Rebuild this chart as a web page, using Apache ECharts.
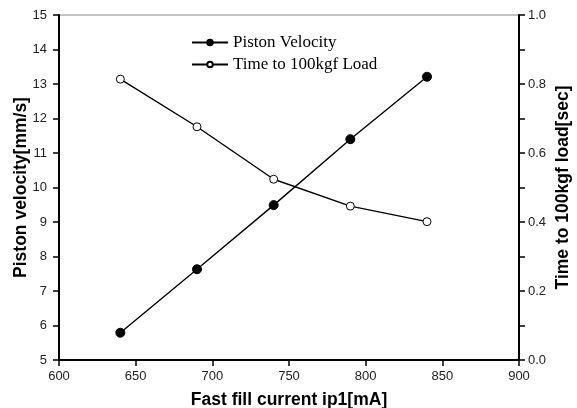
<!DOCTYPE html>
<html>
<head>
<meta charset="utf-8">
<script src="https://cdn.jsdelivr.net/npm/echarts@6/dist/echarts.min.js"></script>
<style>html,body{margin:0;padding:0;background:#fff}#c{width:577px;height:408px}</style>
</head>
<body>
<div id="c"></div>
<script>
var currents = [640, 690, 740, 790, 840];
var pistonVelocity = [5.79, 7.63, 9.49, 11.40, 13.21];
var timeToLoad = [0.814, 0.676, 0.524, 0.446, 0.401];
var seriesNames = ['Piston Velocity', 'Time to 100kgf Load'];
var xName = 'Fast fill current ip1[mA]';
var yLeftName = 'Piston velocity[mm/s]';
var yRightName = 'Time to 100kgf load[sec]';

var chart = echarts.init(document.getElementById('c'));
var axisFont = {fontFamily: 'Arial, "Liberation Sans", sans-serif', fontSize: 13, color: '#222'};
var nameFont = {fontFamily: 'Arial, "Liberation Sans", sans-serif', fontSize: 17.5, fontWeight: 'bold', color: '#000'};
function pairs(ys) { return currents.map(function (x, i) { return [x, ys[i]]; }); }
chart.setOption({
  animation: false,
  grid: {left: 59, top: 15, right: 58, bottom: 48, show: true, borderColor: '#888', borderWidth: 1,
         containLabel: false, outerBoundsMode: 'none'},
  legend: {
    left: 186, top: 29, orient: 'vertical', itemWidth: 36, itemHeight: 7, itemGap: 5,
    lineStyle: {width: 2},
    textStyle: {fontFamily: '"Liberation Serif", "Times New Roman", serif', fontSize: 17, lineHeight: 17, color: '#000'},
    data: seriesNames
  },
  xAxis: {
    type: 'value', min: 600, max: 900, interval: 50,
    name: xName, nameLocation: 'middle', nameGap: 31, nameTextStyle: nameFont,
    axisLine: {lineStyle: {color: '#000', width: 2}},
    axisTick: {length: 6, lineStyle: {color: '#000', width: 1.5}},
    axisLabel: Object.assign({margin: 10}, axisFont),
    splitLine: {show: false}
  },
  yAxis: [{
    type: 'value', min: 5, max: 15, interval: 1, position: 'left',
    name: yLeftName, nameLocation: 'middle', nameRotate: 90, nameGap: 29, nameMoveOverlap: false,
    nameTextStyle: nameFont,
    axisLine: {show: true, lineStyle: {color: '#000', width: 2}},
    axisTick: {show: true, length: 6, lineStyle: {color: '#000', width: 1.5}},
    axisLabel: Object.assign({margin: 12}, axisFont),
    splitLine: {show: false}
  }, {
    type: 'value', min: 0, max: 1, interval: 0.1, position: 'right',
    name: yRightName, nameLocation: 'middle', nameRotate: 90, nameGap: 35, nameMoveOverlap: false,
    nameTextStyle: nameFont,
    axisLine: {show: true, lineStyle: {color: '#000', width: 2}},
    axisTick: {show: true, length: 6, lineStyle: {color: '#000', width: 1.5}},
    axisLabel: Object.assign({margin: 9, formatter: function (v) {
      var k = Math.round(v * 10);
      return k % 2 === 0 ? (k / 10).toFixed(1) : '';
    }}, axisFont),
    splitLine: {show: false}
  }],
  series: [{
    name: seriesNames[0], type: 'line', yAxisIndex: 0, data: pairs(pistonVelocity),
    symbol: 'circle', symbolSize: 9,
    lineStyle: {color: '#000', width: 1.4},
    itemStyle: {color: '#000', borderColor: '#000', borderWidth: 1}
  }, {
    name: seriesNames[1], type: 'line', yAxisIndex: 1, data: pairs(timeToLoad),
    symbol: 'circle', symbolSize: 8,
    lineStyle: {color: '#000', width: 1.4},
    itemStyle: {color: '#fff', borderColor: '#000', borderWidth: 1}
  }]
});
</script>
</body>
</html>
